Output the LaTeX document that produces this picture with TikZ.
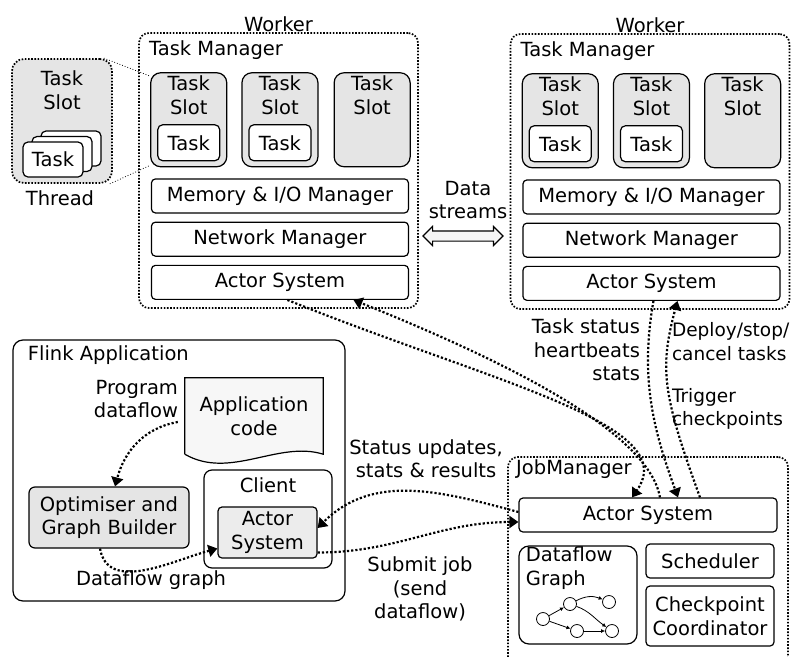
\documentclass[tikz,border=0pt]{standalone}
\usepackage{fontspec}
\setmainfont{DejaVu Sans}
\usetikzlibrary{positioning, arrows.meta, shapes.arrows}

\begin{document}
\begin{tikzpicture}[x=1pt, y=1pt,
every node/.style={font=\fontsize{19.5}{23.5}\selectfont},
box/.style={rectangle, draw, line width=1.2pt, rounded corners=4pt, fill=white, inner sep=0pt},
slot/.style={box, fill=gray!20, rounded corners=10pt, minimum width=76pt, minimum height=94pt},
task/.style={box, rounded corners=5pt, minimum width=62pt, minimum height=36pt},
layer/.style={box, minimum width=257pt, minimum height=34pt},
group/.style={rectangle, draw, line width=1.7pt, dash pattern=on 1.6pt off 1.6pt, rounded corners=10pt},
flow/.style={line width=2.2pt, dash pattern=on 2.2pt off 2pt, -{Triangle[length=9pt, width=12pt]}},
vertex/.style={circle, draw, line width=0.8pt, minimum size=13pt, inner sep=0pt},
mini/.style={line width=0.8pt, -{Latex[length=4pt, width=4pt]}},
]
\useasboundingbox (0,0) rectangle (792,-656);

% worker 1
\node[group, minimum width=279pt, minimum height=275pt] (tm1) at (278.5,-170.5) {};
\node (w1) [above=-3pt of tm1] {Worker};
\node (tmt1) [below right=5pt and 7.5pt of tm1.north west] {Task Manager};
\node[slot, below right=40pt and 12pt of tm1.north west, label={[anchor=north, align=center]north:Task\\Slot}] (s11) {};
\node[slot, right=14pt of s11, label={[anchor=north, align=center]north:Task\\Slot}] (s12) {};
\node[slot, right=15pt of s12, label={[anchor=north, align=center]north:Task\\Slot}] (s13) {};
\node[task, above=6pt of s11.south] (t11) {Task};
\node[task, above=6pt of s12.south] (t12) {Task};
\node[layer] (mem1) [below=11pt of s12] {Memory \& I/O Manager};
\node[layer] (net1) [below=8pt of mem1] {Network Manager};
\node[layer] (as1) [below=8pt of net1] {Actor System};

% thread
\node[group, fill=gray!20, minimum width=100pt, minimum height=124pt, rounded corners=12pt,
  label={[anchor=north, align=center, yshift=-9pt]north:Task\\Slot}] (thread) at (62,-121) {};
\node[task, minimum width=60pt, minimum height=35pt] (tk3) at (71,-148.5) {};
\node[task, minimum width=60pt, minimum height=35pt] (tk2) at ([shift={(-9pt,-5.5pt)}]tk3) {};
\node[task, minimum width=60pt, minimum height=35pt] (tk1) at ([shift={(-9pt,-5.5pt)}]tk2) {Task};
\node (thr) [below=3pt of thread, xshift=-2pt] {Thread};
\draw[dotted, line width=0.8pt] ([xshift=-9pt]thread.north east) -- ([yshift=-4pt]s11.north west);
\draw[dotted, line width=0.8pt] ([xshift=-3pt]thread.south east) -- ([yshift=2pt]s11.south west);

% worker 2
\node[group, minimum width=279pt, minimum height=275pt] (tm2) at (650,-171.5) {};
\node (w2) [above=-3pt of tm2] {Worker};
\node (tmt2) [below right=5pt and 7.5pt of tm2.north west] {Task Manager};
\node[slot, below right=40pt and 12pt of tm2.north west, label={[anchor=north, align=center]north:Task\\Slot}] (s21) {};
\node[slot, right=14pt of s21, label={[anchor=north, align=center]north:Task\\Slot}] (s22) {};
\node[slot, right=14pt of s22, label={[anchor=north, align=center]north:Task\\Slot}] (s23) {};
\node[task, above=6pt of s21.south] (t21) {Task};
\node[task, above=6pt of s22.south] (t22) {Task};
\node[layer] (mem2) [below=11pt of s22] {Memory \& I/O Manager};
\node[layer] (net2) [below=8pt of mem2] {Network Manager};
\node[layer] (as2) [below=8pt of net2] {Actor System};

% data streams
\node[align=center] (ds) at (468,-200) {Data\\streams};
\node[double arrow, draw, line width=1.1pt, fill=gray!8, inner sep=4.5pt, minimum height=80pt,
  minimum width=18pt, double arrow head extend=4.5pt] (streams) at (463,-236) {};

% flink application
\node[box, rounded corners=10pt, minimum width=332pt, minimum height=261pt] (app) at (179,-470.5) {};
\node (appt) [below right=3pt and 12pt of app.north west] {Flink Application};
\node[minimum width=138pt, minimum height=76pt, inner sep=0pt] (code) at (254,-416) {};
\draw[line width=1.2pt, fill=gray!6] (code.south west) -- (code.north west) -- (code.north east)
  -- (code.south east) .. controls +(-45,14) and +(45,-26) .. (code.south west);
\node[align=center] (codetxt) at (code) {Application\\code};
\node[align=right, anchor=east] (prog) at (181.5,-399) {Program\\dataflow};
\node[box, fill=gray!20, rounded corners=6pt, minimum width=160pt, minimum height=61pt, align=center] (opt) at (109,-517.5) {Optimiser and\\Graph Builder};
\node[box, rounded corners=8pt, minimum width=128pt, minimum height=98pt,
  label={[anchor=north, yshift=-4.5pt]north:Client}] (client) at (268,-519) {};
\node[box, fill=gray!15, minimum width=99pt, minimum height=51pt, align=center] (clas) at (267.5,-532.5) {Actor\\System};
\node (dfgl) at (151,-580) {Dataflow graph};

% job manager
\node[group, minimum width=280pt, minimum height=210pt] (jm) at (648,-562) {};
\node (jmt) [below right=0pt and 5.5pt of jm.north west] {JobManager};
\node[layer, minimum width=258pt] (jmas) at (648,-515) {Actor System};
\node[box, rounded corners=10pt, minimum width=118pt, minimum height=98pt,
  label={[anchor=north west, align=left, xshift=4pt, yshift=2pt]north west:Dataflow\\Graph}] (dfg) at (578,-595) {};
\node[box, minimum width=128pt, minimum height=34pt] (sched) at (710,-561) {Scheduler};
\node[box, minimum width=128pt, minimum height=60pt, align=center] (ckpt) at (710,-616) {Checkpoint\\Coordinator};

\node[vertex] (va) at (543,-619) {};
\node[vertex] (vb) at (570,-604) {};
\node[vertex] (vc) at (609,-602) {};
\node[vertex] (vd) at (577,-631) {};
\node[vertex] (ve) at (612,-631) {};
\draw[mini] (va) -- (vb);
\draw[mini] (va) -- (vd);
\draw[mini] (vb) to[bend left=25] (vc);
\draw[mini] (vb) to[out=-20, in=145] (ve);
\draw[mini] (vd) -- (ve);

% messages
\node[align=right, anchor=east] (tsl) at (643.5,-350) {Task status\\heartbeats\\stats};
\node[align=left, anchor=west, font=\fontsize{18.5}{23.5}\selectfont] (dpl) at (668.5,-341.5) {Deploy/stop/\\cancel tasks};
\node[align=left, anchor=west, font=\fontsize{18.5}{23.5}\selectfont] (trl) at (668.5,-409) {Trigger\\checkpoints};
\node[align=center] (stl) at (426,-458.5) {Status updates,\\stats \& results};
\node[align=center] (sbl) at (420,-589) {Submit job\\(send\\dataflow)};

\draw[flow] ([xshift=7.5pt]as1.south) .. controls +(-22:220) and +(55:90) .. ([xshift=-16pt]jmas.north);
\draw[flow] ([xshift=12pt]jmas.north) .. controls +(100:70) and +(-22:150) .. ([xshift=73.5pt]as1.south);
\draw[flow] ([xshift=2pt]as2.south) .. controls +(-100:80) and +(110:70) .. ([xshift=30pt]jmas.north);
\draw[flow] ([xshift=52pt]jmas.north) .. controls +(110:110) and +(-105:70) .. ([xshift=26pt]as2.south);
\draw[flow] ([yshift=-20pt]clas.east) to[out=0, in=180] ([yshift=-7pt]jmas.west);
\draw[flow] ([yshift=3pt]jmas.west) to[out=165, in=45] ([yshift=4.5pt]clas.east);
\draw[flow] ([shift={(-7pt,-6pt)}]code.west) to[out=190, in=75] ([xshift=6pt]opt.north);
\draw[flow] ([xshift=-9pt]opt.south) to[out=-80, in=195] ([yshift=-16pt]clas.west);
\end{tikzpicture}
\end{document}
